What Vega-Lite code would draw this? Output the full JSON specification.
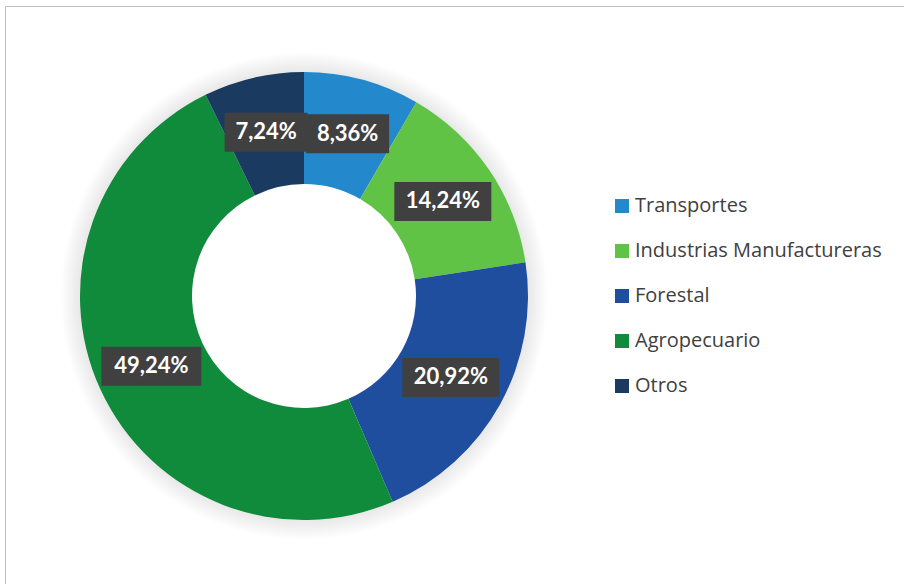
{
  "$schema": "https://vega.github.io/schema/vega-lite/v6.json",
  "width": 899,
  "height": 580,
  "autosize": {"type": "none"},
  "padding": {"left": 5, "top": 6, "right": 0, "bottom": 0},
  "background": "white",
  "config": {
    "view": {"stroke": "#c0c0c0", "strokeWidth": 1}
  },
  "data": {
    "values": [
      {"sector": "Transportes", "pct": 8.36, "label": "8,36%", "i": 1},
      {"sector": "Industrias Manufactureras", "pct": 14.24, "label": "14,24%", "i": 2},
      {"sector": "Forestal", "pct": 20.92, "label": "20,92%", "i": 3},
      {"sector": "Agropecuario", "pct": 49.24, "label": "49,24%", "i": 4},
      {"sector": "Otros", "pct": 7.24, "label": "7,24%", "i": 5}
    ]
  },
  "layer": [
    {
      "transform": [{"aggregate": [{"op": "sum", "field": "pct", "as": "tot"}]}],
      "mark": {
        "type": "arc",
        "outerRadius": 244,
        "innerRadius": 190,
        "xOffset": -150.5,
        "fill": {
          "gradient": "radial",
          "stops": [
            {"offset": 0, "color": "rgba(0,0,0,0.09)"},
            {"offset": 0.918, "color": "rgba(0,0,0,0.09)"},
            {"offset": 1, "color": "rgba(0,0,0,0)"}
          ]
        }
      },
      "encoding": {
        "theta": {"field": "tot", "type": "quantitative", "stack": true}
      }
    },
    {
      "mark": {"type": "arc", "outerRadius": 224, "innerRadius": 112, "xOffset": -150.5},
      "encoding": {
        "theta": {"field": "pct", "type": "quantitative", "stack": true},
        "order": {"field": "i", "type": "quantitative"},
        "color": {
          "field": "sector",
          "type": "nominal",
          "scale": {
            "domain": ["Transportes", "Industrias Manufactureras", "Forestal", "Agropecuario", "Otros"],
            "range": ["#2389cc", "#61c346", "#1f4e9f", "#0f8b3b", "#1a3a60"]
          },
          "legend": {
            "orient": "none",
            "legendX": 607,
            "legendY": 190,
            "title": null,
            "symbolType": "square",
            "symbolSize": 196,
            "symbolStrokeWidth": 0,
            "labelFont": "Open Sans",
            "labelFontSize": 20,
            "labelColor": "#404040",
            "rowPadding": 25,
            "labelOffset": 3,
            "padding": 0,
            "labelLimit": 400
          }
        }
      }
    },
    {
      "transform": [
        {"window": [{"op": "sum", "field": "pct", "as": "cum"}], "sort": [{"field": "i", "order": "ascending"}]},
        {"joinaggregate": [{"op": "sum", "field": "pct", "as": "total"}]},
        {"calculate": "2 * PI * (datum.cum - datum.pct / 2) / datum.total", "as": "ang"},
        {"calculate": "sin(datum.ang)", "as": "bx"},
        {"calculate": "cos(datum.ang)", "as": "by"}
      ],
      "mark": {"type": "point", "size": 10000, "filled": true, "color": "#404040", "opacity": 1, "strokeWidth": 0},
      "encoding": {
        "x": {"field": "bx", "type": "quantitative", "scale": {"domain": [-1.779762, 3.571429], "nice": false, "zero": false}, "axis": null},
        "y": {"field": "by", "type": "quantitative", "scale": {"domain": [-1.72619, 1.72619], "nice": false, "zero": false}, "axis": null},
        "shape": {
          "field": "label",
          "type": "nominal",
          "scale": {
            "domain": ["8,36%", "14,24%", "20,92%", "49,24%", "7,24%"],
            "range": [
              "M-0.83,-0.39H0.83V0.39H-0.83Z",
              "M-0.97,-0.39H0.97V0.39H-0.97Z",
              "M-0.97,-0.39H0.97V0.39H-0.97Z",
              "M-1,-0.39H1V0.39H-1Z",
              "M-0.83,-0.39H0.83V0.39H-0.83Z"
            ]
          },
          "legend": null
        }
      }
    },
    {
      "mark": {"type": "text", "radius": 168, "xOffset": -150.5, "font": "Lato", "fontWeight": "bold", "fontSize": 22, "color": "white"},
      "encoding": {
        "theta": {"field": "pct", "type": "quantitative", "stack": true},
        "order": {"field": "i", "type": "quantitative"},
        "text": {"field": "label"}
      }
    }
  ]
}
